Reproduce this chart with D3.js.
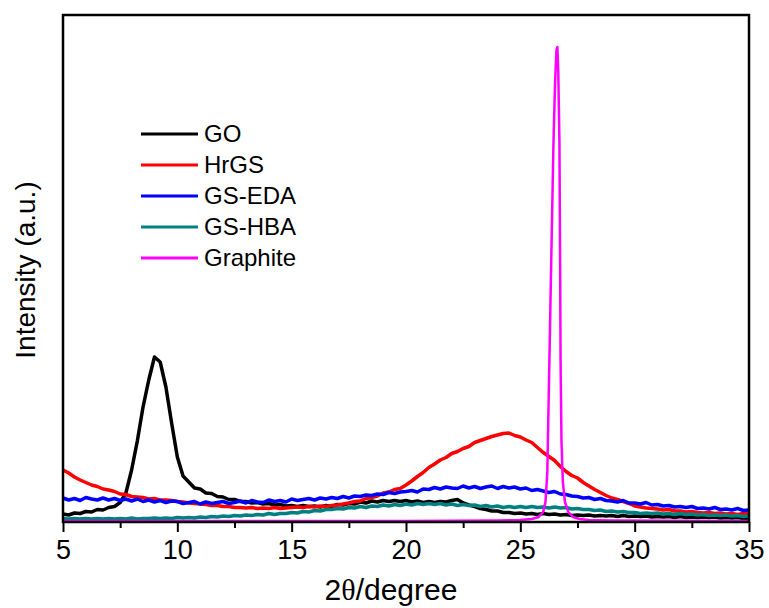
<!DOCTYPE html>
<html>
<head>
<meta charset="utf-8">
<script src="https://cdn.jsdelivr.net/npm/d3@7"></script>
<style>
  body { margin: 0; background: #fff; }
  text { font-family: "Liberation Sans", Arial, sans-serif; fill: #000; }
</style>
</head>
<body>
<div id="chart"></div>
<script>
// XRD patterns, intensity in arbitrary units, scan step 0.25 degree from 5 to 35
const angles = d3.range(121).map(i => 5 + i * 0.25);

const goValues = [
  8, 7, 9, 8.5, 10.5, 10, 12.5, 12, 14.5, 15.5, 19.5, 29, 52, 81, 115, 142,
  165, 160, 135, 99, 65, 46, 40, 34, 33, 29, 28.5, 25.5, 25, 22.5, 22.5, 20.5,
  20.5, 19, 19.5, 18, 18.5, 17, 17.5, 16, 16.5, 15.5, 16.5, 15.5, 16, 15, 16.5, 15.5,
  17.5, 17, 18.5, 18, 20, 19, 21, 20, 21.5, 20.5, 21.5, 20.5, 21.5, 20, 21, 19.5,
  20.5, 19.5, 20.5, 20, 21.5, 22.5, 19, 17, 15.5, 13.5, 12.5, 11, 11, 9.5, 9.5, 8.5,
  9, 8, 8.5, 7.5, 8.5, 7.5, 8, 7, 7.5, 6.5, 7, 6.5, 7, 6, 6.5, 6,
  6.5, 5.5, 6.5, 5.5, 6, 5.5, 6, 5, 5.5, 5, 5.5, 4.5, 5.5, 4.5, 5, 4.5,
  5, 4.5, 5, 4, 4.5, 4, 4.5, 3.5, 4
];

const hrgsValues = [
  52, 49, 45, 42, 39.5, 37, 35.5, 33, 32, 30.5, 28, 27.5, 25.5, 25, 24.5, 23,
  23.5, 22, 22, 21.5, 20.5, 20, 19, 18.5, 18, 17.5, 16.5, 16.5, 15.5, 15.5, 14.5, 14.5,
  14, 14.5, 13.5, 14, 13.5, 14.5, 13.5, 14, 14.5, 15, 14.5, 15.5, 15, 16, 15.5, 16.5,
  17, 18, 19, 20.5, 21, 23.5, 24.5, 26, 29, 30, 32.5, 33.5, 37, 41, 45.5, 49.5,
  54.5, 58, 62, 64.5, 68.5, 70.5, 73.5, 75.5, 79.5, 81.5, 83.5, 85.5, 87, 88.5, 89, 86.5,
  85, 82, 79.5, 74.5, 69.5, 65.5, 61.5, 55.5, 50.5, 46.5, 44, 39.5, 36, 32.5, 29.5, 26.5,
  24, 22.5, 20.5, 18.5, 16, 15, 14, 13.5, 13, 12, 12.5, 11, 11, 10, 10.5, 9.5,
  9, 9.5, 8.5, 9, 8, 8.5, 7.5, 8.5, 8
];

const edaValues = [
  24, 22, 23.5, 21.5, 24.5, 23, 22, 24, 22, 23.5, 21.5, 23, 21, 23, 20.5, 22,
  20, 21.5, 19.5, 21, 20.5, 18.5, 19.5, 20.5, 18, 20, 18.5, 19.5, 20.5, 18.5, 19.5, 21,
  19, 21.5, 20, 19.5, 22, 20.5, 21.5, 20, 23, 21.5, 22.5, 23.5, 22, 24, 23, 24.5,
  23.5, 25.5, 24, 26, 25.5, 27, 26.5, 28, 27.5, 29.5, 28.5, 30, 30.5, 31.5, 30, 33,
  32.5, 34.5, 33, 35, 34, 33.5, 36, 34, 35.5, 33.5, 35, 36, 33.5, 35.5, 34, 35,
  33, 34, 31.5, 32.5, 31, 29.5, 30.5, 28, 27.5, 26, 25.5, 24, 24.5, 22.5, 23.5, 21.5,
  21, 20, 21.5, 19, 19, 18, 19.5, 17, 17.5, 16, 16.5, 15, 15.5, 14.5, 15.5, 13.5,
  14, 13, 14.5, 12.5, 13, 12, 13.5, 11.5, 12
];

const hbaValues = [
  3.5, 3, 3.5, 3, 3.5, 3, 3.5, 3, 3.5, 3, 3.5, 3, 4, 3, 3.5, 3.5,
  4, 3.5, 4, 3.5, 4.5, 4, 4.5, 4, 5, 4.5, 5.5, 5, 6, 5.5, 6.5, 6,
  7, 6.5, 7.5, 7, 8.5, 7.5, 8.5, 8.5, 9.5, 9, 10.5, 10, 11.5, 11, 12.5, 12.5,
  13.5, 13, 14.5, 14, 15.5, 14.5, 16, 15.5, 17, 16, 17.5, 16.5, 18, 17, 18.5, 17.5,
  18.5, 17.5, 18.5, 17, 18, 16.5, 17.5, 16.5, 17, 15.5, 16.5, 15, 16, 14.5, 15.5, 14.5,
  15.5, 14.5, 15.5, 14.5, 15, 14, 15, 14, 14.5, 13, 13.5, 12.5, 12.5, 11.5, 12, 10.5,
  11, 10, 10.5, 9.5, 9.5, 8.5, 9, 8.5, 9, 8, 8.5, 7.5, 8.5, 7.5, 8, 7,
  7.5, 6.5, 7, 6.5, 7, 6, 6.5, 5.5, 6
];

// graphite has its own sampling, dense around the (002) peak
const graphiteAngles = [5, 20, 24, 25, 25.5, 25.8, 26.0, 26.1, 26.18, 26.22, 26.27, 26.35, 26.45,
  26.52, 26.58, 26.62, 26.66, 26.71, 26.74, 26.76, 26.8, 26.86, 26.95, 27.1, 27.3, 27.6, 28, 29, 35];
const graphiteValues = [1, 1, 1.5, 2, 3, 5, 10, 20, 50, 100, 160, 260, 380,
  440, 472, 475, 450, 380, 260, 160, 80, 40, 20, 10, 5, 3, 2, 1.5, 1];

const seriesNames = ["GO", "HrGS", "GS-EDA", "GS-HBA", "Graphite"];
const seriesColors = ["#000000", "#ff0000", "#0000ff", "#008080", "#ff00ff"];

const xTicks = [5, 10, 15, 20, 25, 30, 35];
const xMinorTicks = [7.5, 12.5, 17.5, 22.5, 27.5, 32.5];

const series = [
  { name: seriesNames[0], x: angles, y: goValues },
  { name: seriesNames[1], x: angles, y: hrgsValues },
  { name: seriesNames[2], x: angles, y: edaValues },
  { name: seriesNames[3], x: angles, y: hbaValues },
  { name: seriesNames[4], x: graphiteAngles, y: graphiteValues }
];

const width = 769;
const height = 608;
const margin = { top: 15, right: 20, bottom: 86, left: 63 };

const svg = d3.select("#chart")
  .append("svg")
  .attr("width", width)
  .attr("height", height);

const x = d3.scaleLinear()
  .domain([5, 35])
  .range([margin.left, width - margin.right]);

const y = d3.scaleLinear()
  .domain([0, 507])
  .range([height - margin.bottom, margin.top]);

const color = d3.scaleOrdinal(seriesNames, seriesColors);

// lines
const line = d3.line()
  .x(d => x(d[0]))
  .y(d => y(d[1]));

svg.append("g")
  .selectAll("path")
  .data(series)
  .enter()
  .append("path")
  .attr("d", s => line(s.x.map((v, i) => [v, s.y[i]])))
  .attr("fill", "none")
  .attr("stroke", s => color(s.name))
  .attr("stroke-width", s => s.name === "Graphite" ? 2.5 : 3.5)
  .attr("stroke-linejoin", "round");

// frame
svg.append("rect")
  .attr("x", margin.left)
  .attr("y", margin.top)
  .attr("width", width - margin.left - margin.right)
  .attr("height", height - margin.top - margin.bottom)
  .attr("fill", "none")
  .attr("stroke", "#000")
  .attr("stroke-width", 2.5);

// x axis, major ticks with labels
const xAxis = svg.append("g")
  .attr("transform", `translate(0,${height - margin.bottom})`)
  .call(d3.axisBottom(x).tickValues(xTicks).tickSize(10).tickPadding(8).tickFormat(d3.format("d")));
xAxis.select(".domain").remove();
xAxis.selectAll(".tick line").attr("stroke-width", 2);
xAxis.selectAll(".tick text")
  .attr("font-size", 27)
  .attr("font-family", "Liberation Sans, Arial, sans-serif");

// minor ticks
const xMinor = svg.append("g")
  .attr("transform", `translate(0,${height - margin.bottom})`)
  .call(d3.axisBottom(x).tickValues(xMinorTicks).tickSize(6).tickFormat(""));
xMinor.select(".domain").remove();
xMinor.selectAll(".tick line").attr("stroke-width", 2);

// axis titles
const xTitle = svg.append("text")
  .attr("x", 391)
  .attr("y", 600)
  .attr("text-anchor", "middle")
  .attr("font-size", 30);
xTitle.append("tspan").text("2");
xTitle.append("tspan").attr("font-family", "Liberation Serif, Times New Roman, serif").text("θ");
xTitle.append("tspan").text("/degree");

svg.append("text")
  .attr("transform", "translate(35,270) rotate(-90)")
  .attr("text-anchor", "middle")
  .attr("font-size", 28)
  .text("Intensity (a.u.)");

// legend
const legend = svg.selectAll(".legend")
  .data(seriesNames)
  .enter()
  .append("g")
  .attr("class", "legend")
  .attr("transform", (d, i) => `translate(141,${134 + i * 31})`);

legend.append("line")
  .attr("x1", 0)
  .attr("x2", 57)
  .attr("stroke", d => color(d))
  .attr("stroke-width", 3);

legend.append("text")
  .attr("x", 63)
  .attr("y", 8)
  .attr("font-size", 24)
  .text(d => d);
</script>
</body>
</html>
